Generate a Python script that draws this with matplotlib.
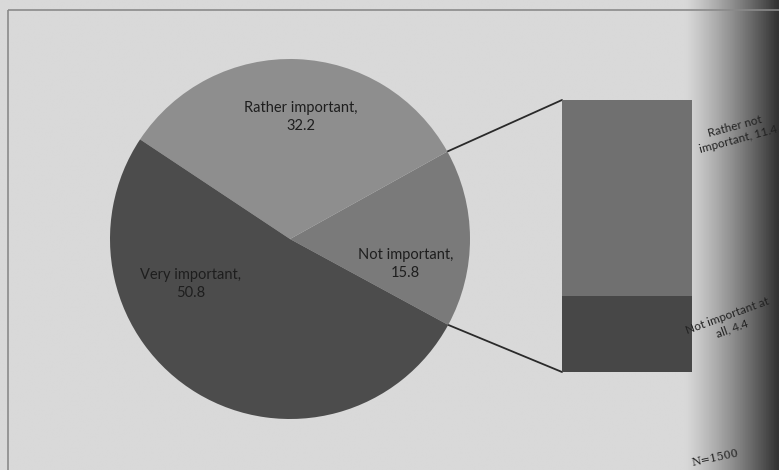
import matplotlib
matplotlib.use("Agg")
import matplotlib.pyplot as plt
import numpy as np
from matplotlib.patches import ConnectionPatch, Rectangle

# ---- data ----
pie_labels = ["Not important", "Rather important", "Very important"]
pie_values = [15.8, 32.2, 50.8]
bar_labels = ["Not important at\nall", "Rather not\nimportant"]
bar_values = [4.4, 11.4]
note = "N=1500"

pie_colors = ["#7a7a7a", "#8e8e8e", "#4c4c4c"]
bar_colors = ["#474747", "#707070"]

W, H = 779, 470
fig = plt.figure(figsize=(W / 100, H / 100), dpi=100)
fig.patch.set_facecolor("#d9d9d9")
plt.rcParams["font.family"] = ["Lato", "DejaVu Sans"]

def px(x0, y0, x1, y1):
    return [x0 / W, 1 - y1 / H, (x1 - x0) / W, (y1 - y0) / H]

# right-edge shadow (page curl in the photo)
gax = fig.add_axes([0, 0, 1, 1], zorder=0)
gax.set_xlim(0, W); gax.set_ylim(H, 0); gax.axis("off")
xs = np.linspace(0, 1, 300)
shade = np.clip((xs - 0.88) / 0.12, 0, 1) ** 1.2
img = np.tile(shade, (10, 1))
cmap = matplotlib.colors.LinearSegmentedColormap.from_list("sh", ["#d9d9d9", "#333333"])
gax.imshow(img, extent=[0, W, H, 0], aspect="auto", cmap=cmap, vmin=0, vmax=1)
gax.add_patch(Rectangle((8, 10), 800, 500, fill=False, edgecolor="#8a8a8a", lw=1.2))

# pie
pax = fig.add_axes(px(110, 58, 470, 420), zorder=2)
wedges, _ = pax.pie(pie_values, colors=pie_colors, startangle=-28.5,
                    counterclock=True, radius=1.0,
                    wedgeprops=dict(linewidth=0))
pax.set_aspect("equal")
pax.set_xlim(-1.0, 1.0); pax.set_ylim(-1.0, 1.0)
pax.axis("off")

txt = dict(ha="center", va="center", fontsize=10.5, color="#1e1e1e", linespacing=1.35)
pax.text(0.64, -0.14, f"{pie_labels[0]},\n{pie_values[0]}", **txt)
pax.text(0.06, 0.68, f"{pie_labels[1]},\n{pie_values[1]}", **txt)
pax.text(-0.55, -0.25, f"{pie_labels[2]},\n{pie_values[2]}", **txt)

# bar
bax = fig.add_axes(px(562, 100, 692, 372), zorder=2)
bottom = 0
for v, c in zip(bar_values, bar_colors):
    bax.bar(0, v, width=1.0, bottom=bottom, color=c, edgecolor="none")
    bottom += v
bax.set_xlim(-0.5, 0.5); bax.set_ylim(0, sum(bar_values))
bax.axis("off")

# connector lines
theta1, theta2 = wedges[0].theta1, wedges[0].theta2
for th, yb in [(theta2, sum(bar_values)), (theta1, 0)]:
    x = np.cos(np.radians(th)); y = np.sin(np.radians(th))
    con = ConnectionPatch(xyA=(-0.5, yb), coordsA=bax.transData,
                          xyB=(x, y), coordsB=pax.transData,
                          color="#2a2a2a", lw=1.3)
    fig.add_artist(con)

# bar labels
fig.text(737 / W, 1 - 133 / H, f"{bar_labels[1]}, {bar_values[1]}",
         ha="center", va="center", fontsize=8.5, rotation=15, color="#222222", zorder=5)
fig.text(730 / W, 1 - 322 / H, f"{bar_labels[0]}, {bar_values[0]}",
         ha="center", va="center", fontsize=8.5, rotation=20, color="#222222", zorder=5)
fig.text(715 / W, 1 - 458 / H, note, ha="center", va="center", fontsize=8,
         rotation=12, color="#222222", family="DejaVu Serif", zorder=5)

fig.savefig("out.png", dpi=100, facecolor=fig.get_facecolor())
